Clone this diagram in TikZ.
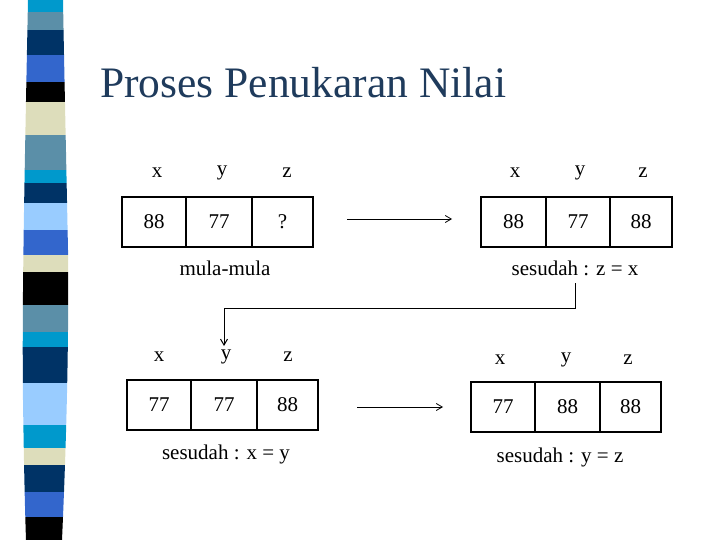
\documentclass[tikz,border=0pt]{standalone}
\usepackage{fontspec}
\usetikzlibrary{arrows.meta}
\setmainfont{Liberation Serif}
\begin{document}
\begin{tikzpicture}[x=1pt,y=-1pt,
  cell/.style={draw,line width=1.2pt,minimum height=50pt,inner sep=0pt,font=\fontsize{21}{22}\selectfont},
  lab/.style={font=\fontsize{21}{22}\selectfont},
  conn/.style={line width=1pt},
  arr/.style={line width=0.8pt,-{Straight Barb[length=6pt,width=7pt]}}]
\useasboundingbox (0,0) rectangle (720,540);
\definecolor{cA}{HTML}{0099CC}\definecolor{cB}{HTML}{5B8FA8}\definecolor{cC}{HTML}{003366}
\definecolor{cD}{HTML}{3366CC}\definecolor{cE}{HTML}{000000}\definecolor{cF}{HTML}{DDDDBB}
\definecolor{cG}{HTML}{99CCFF}\definecolor{title}{HTML}{1F3B5C}
\begin{scope}
\clip (28,0) .. controls (24,200) and (22,300) .. (23,400) .. controls (24,470) and (25,510) .. (26,540) -- (62,540) .. controls (66,450) and (69,350) .. (68,250) .. controls (66,150) and (64,60) .. (63,0) -- cycle;
\foreach \a/\b/\c in {0/12/cA,12/30/cB,30/55/cC,55/82/cD,82/102/cE,102/135/cF,135/170/cB,170/183/cA,183/203/cC,203/230/cG,230/255/cD,255/272/cF,272/305/cE,305/332/cB,332/347/cA,347/383/cC,383/425/cG,425/448/cA,448/465/cF,465/492/cC,492/517/cD,517/540/cE}
  \fill[\c] (20,\a) rectangle (72,\b);
\end{scope}
\node[anchor=base west,text=title,font=\fontsize{43.5}{46}\selectfont,inner sep=0] (t) at (100,98) {Proses Penukaran Nilai};
% row 1 left
\node[cell,minimum width=64pt] (a1) at (154,222) {88};
\node[cell,minimum width=66pt] (a2) at (219,222) {77};
\node[cell,minimum width=61pt] (a3) at (282.5,222) {?};
\node[lab] (ax) at (157,173) {x};\node[lab] (ay) at (222,173) {y};\node[lab] (az) at (287,173) {z};
\node[lab] (ac) at (225,268) {mula-mula};
% row 1 right
\node[cell,minimum width=65pt] (b1) at (513.5,222) {88};
\node[cell,minimum width=64pt] (b2) at (578,222) {77};
\node[cell,minimum width=62pt] (b3) at (641,222) {88};
\node[lab] (bx) at (515,173) {x};\node[lab] (by) at (580,173) {y};\node[lab] (bz) at (643,173) {z};
\node[lab] (bc) at (575,268) {sesudah : z = x};
% row 2 left
\node[cell,minimum width=64pt] (c1) at (159,405) {77};
\node[cell,minimum width=66pt] (c2) at (224,405) {77};
\node[cell,minimum width=61pt] (c3) at (287.5,405) {88};
\node[lab] (cx) at (159,357) {x};\node[lab] (cy) at (226,357) {y};\node[lab] (cz) at (288,357) {z};
\node[lab] (cc) at (226,454) {sesudah : x = y};
% row 2 right
\node[cell,minimum width=64pt] (d1) at (503,407) {77};
\node[cell,minimum width=65pt] (d2) at (567.5,407) {88};
\node[cell,minimum width=61pt] (d3) at (630.5,407) {88};
\node[lab] (dx) at (500,360) {x};\node[lab] (dy) at (566,360) {y};\node[lab] (dz) at (628,360) {z};
\node[lab] (dc) at (560,457) {sesudah : y = z};
% connectors
\coordinate (p1) at (347,219);\coordinate (p2) at (452,219);
\draw[arr] (p1) -- (p2);
\coordinate (q1) at (357,407);\coordinate (q2) at (443,407);
\draw[arr] (q1) -- (q2);
\coordinate (r1) at (575,283);\coordinate (r2) at (575,308);\coordinate (r3) at (224,308);\coordinate (r4) at (224,346);
\draw[conn] (r1) -- (r2) -- (r3);
\draw[arr,line width=1pt] (r3) -- (r4);
\end{tikzpicture}
\end{document}
